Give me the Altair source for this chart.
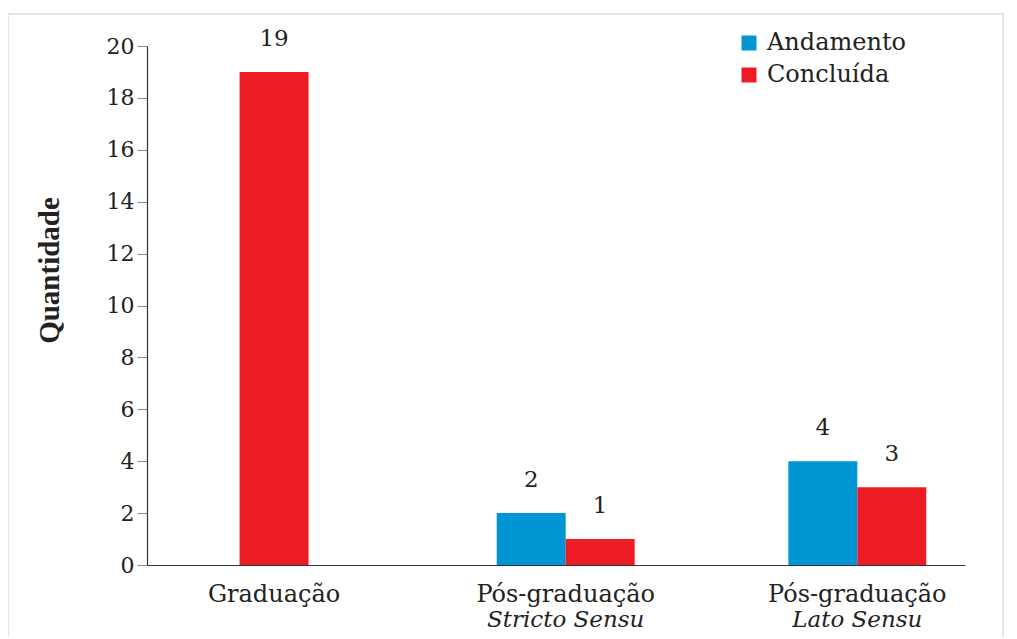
import altair as alt
import pandas as pd

categories = ["Graduação", "Pós-graduação Stricto Sensu", "Pós-graduação Lato Sensu"]
line1 = ["Graduação", "Pós-graduação", "Pós-graduação"]
line2 = ["", "Stricto Sensu", "Lato Sensu"]
series = ["Andamento", "Concluída"]
andamento = [None, 2, 4]
concluida = [19, 1, 3]
colors = ["#0096D6", "#ED1C24"]
y_ticks = list(range(0, 21, 2))

rows = []
for c, a, k in zip(categories, andamento, concluida):
    n = sum(v is not None for v in (a, k))
    for s, v in zip(series, (a, k)):
        if v is not None:
            rows.append({"cat": c, "serie": s, "val": v, "n": n})
df = pd.DataFrame(rows)
df_group = df[df["n"] > 1]
df_single = df[df["n"] == 1]
df_lab = pd.DataFrame({"cat": categories, "l1": line1, "l2": line2})

W, H = 818, 519
FONT = "DejaVu Serif"

xenc = alt.X("cat:N",
             scale=alt.Scale(domain=categories, paddingInner=0.527, paddingOuter=0.166,
                             align=0.6),
             axis=alt.Axis(labelExpr="split(datum.label, ' ')[0]", ticks=False,
                           labelFontSize=24, labelFont=FONT, labelColor="#222",
                           labelPadding=17, domainColor="#333", domainWidth=1.2,
                           labelAngle=0),
             title=None)
yenc = alt.Y("val:Q", scale=alt.Scale(domain=[0, 20]),
             axis=alt.Axis(values=y_ticks, title="Quantidade", grid=False,
                           labelFont=FONT, labelFontSize=22, labelColor="#222",
                           labelPadding=3, tickSize=10, tickColor="#888",
                           domainColor="#333", domainWidth=1.2,
                           titleFont="Liberation Serif", titleFontWeight="bold",
                           titleFontSize=29, titleColor="#222",
                           titleX=-89, titleY=224, titleAngle=-90,
                           titleAlign="center", titleBaseline="alphabetic"))
cenc = alt.Color("serie:N", scale=alt.Scale(domain=series, range=colors),
                 legend=alt.Legend(title=None, orient="none", legendX=590, legendY=-15,
                                   symbolType="square", symbolSize=225,
                                   symbolStrokeWidth=0, labelFont=FONT,
                                   labelFontSize=24, labelColor="#222",
                                   labelOffset=6, rowPadding=8))
xoff = alt.XOffset("serie:N", scale=alt.Scale(domain=series, paddingInner=0, paddingOuter=0))

frame = alt.Chart(pd.DataFrame({"a": [0]})).mark_rect(
    fill="transparent", stroke="#e4e4e4", strokeWidth=2
).encode(x=alt.value(-139), x2=alt.value(856), y=alt.value(-32), y2=alt.value(700))

bars_group = alt.Chart(df_group).mark_bar().encode(x=xenc, xOffset=xoff, y=yenc, color=cenc)
bars_single = alt.Chart(df_single).mark_bar(width=alt.RelativeBandSize(0.5)).encode(
    x=xenc, y=yenc, color=cenc)

txt_group = alt.Chart(df_group).mark_text(
    font=FONT, fontSize=23, color="#222", dy=-26, baseline="alphabetic"
).encode(x=xenc, xOffset=xoff, y=yenc, text="val:Q")
txt_single = alt.Chart(df_single).mark_text(
    font=FONT, fontSize=23, color="#222", dy=-26, baseline="alphabetic"
).encode(x=xenc, y=yenc, text="val:Q")

sub = alt.Chart(df_lab).mark_text(
    font=FONT, fontSize=23, fontStyle="italic", color="#222", baseline="middle"
).encode(x=xenc, y=alt.value(H + 55), text="l2:N")

chart = alt.layer(frame, bars_single, bars_group, txt_single, txt_group, sub).properties(
    width=W, height=H,
    autosize=alt.AutoSizeParams(type="none"),
    padding={"left": 139, "top": 38, "right": 42, "bottom": 72},
).configure_view(stroke=None)

chart.save("out.html", embed_options={"renderer": "svg", "actions": False})
